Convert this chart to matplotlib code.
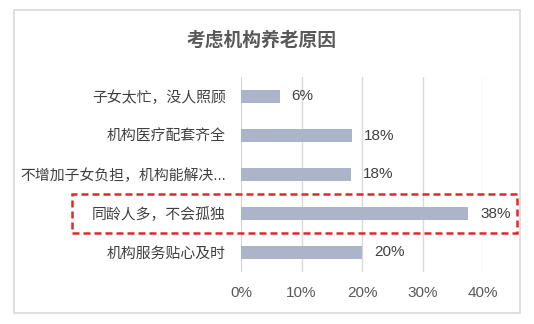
import matplotlib
matplotlib.use('Agg')
import matplotlib.pyplot as plt
import matplotlib.transforms as mtransforms
from matplotlib.patches import Rectangle

# data
categories = ['子女太忙，没人照顾', '机构医疗配套齐全', '不增加子女负担，机构能解决...',
              '同龄人多，不会孤独', '机构服务贴心及时']
values = [6.4, 18.4, 18.2, 37.6, 20.0]
value_labels = ['6%', '18%', '18%', '38%', '20%']
xticks = [0, 10, 20, 30, 40]
xtick_labels = ['0%', '10%', '20%', '30%', '40%']
highlight = 3

cjk = ['Noto Sans CJK SC', 'DejaVu Sans']
mixed = ['Liberation Sans', 'Noto Sans CJK SC']
num = ['Liberation Sans', 'DejaVu Sans']

# create figure, 534x324 px
fig = plt.figure(figsize=(5.34, 3.24), dpi=100)
W, H = 534, 324

# outer chart frame
fig.patches.append(Rectangle((14 / W, 1 - 313 / H), 506 / W, 303 / H,
                             transform=fig.transFigure, fill=False,
                             edgecolor='#d9d9d9', linewidth=1.2))

ax = fig.add_axes([241 / W, 1 - 272 / H, 242 / W, 195 / H])

ypos = list(range(len(categories)))
ax.barh(ypos, values, height=0.34, color='#abb4c8', zorder=3)

ax.set_xlim(0, 40)
ax.set_ylim(len(categories) - 0.5, -0.5)

# grid
ax.set_xticks(xticks)
ax.xaxis.grid(True, color='#d9d9d9', linewidth=1.0, zorder=0)
for s in ax.spines.values():
    s.set_visible(False)
ax.tick_params(axis='both', length=0)

ax.set_xticklabels(xtick_labels, fontsize=11, color='#595959', family=num)
ax.tick_params(axis='x', pad=10)
ax.set_yticks(ypos)
ax.set_yticklabels(categories, fontsize=10.7, color='#404040', family=mixed)
ax.tick_params(axis='y', pad=11)

# value labels
offset = mtransforms.offset_copy(ax.transData, fig=fig, x=12, y=0, units='dots')
for y, v, lab in zip(ypos, values, value_labels):
    ax.text(v, y, lab, transform=offset, ha='left', va='center',
            fontsize=11, color='#404040', family=num)

# title
fig.text(261 / W, 1 - 40 / H, '考虑机构养老原因', ha='center', va='center',
         fontsize=13.5, fontweight='bold', color='#595959', family=cjk)

# red dashed highlight box around one category
blend = mtransforms.blended_transform_factory(fig.transFigure, ax.transData)
box = Rectangle((72 / W, highlight + 0.49), 445 / W, -0.98, transform=blend,
                fill=False, edgecolor='#e3262b', linewidth=1.8,
                linestyle=(0, (2.8, 1.6)), clip_on=False, zorder=5)
fig.patches.append(box)

plt.savefig('out.png', dpi=100)
